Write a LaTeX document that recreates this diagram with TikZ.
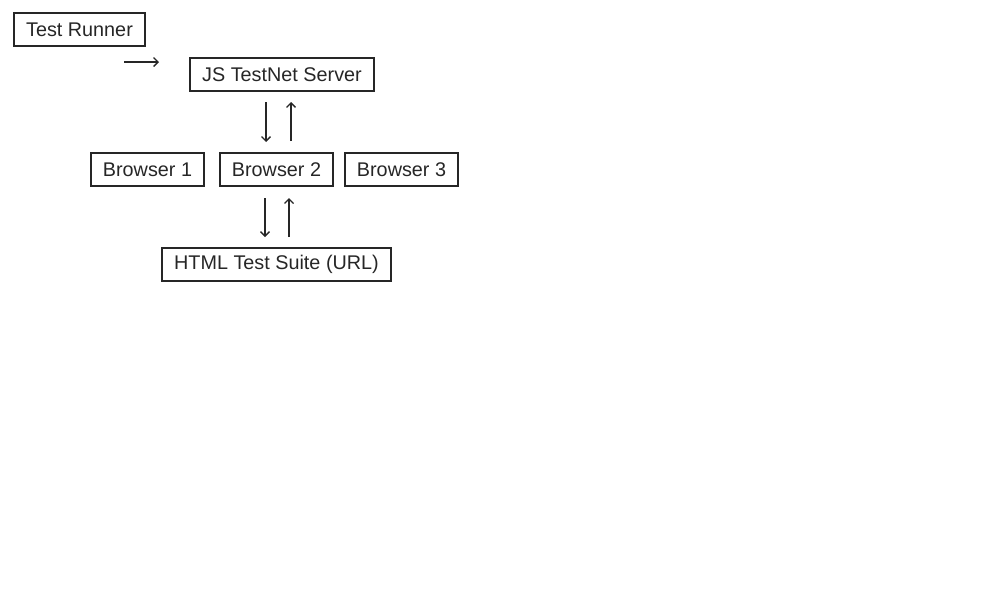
\documentclass[tikz,border=0pt]{standalone}
\usepackage{fontspec}
\setmainfont{Liberation Sans}
\usepackage{tikz}
\usetikzlibrary{arrows.meta}

\begin{document}
\begin{tikzpicture}[x=1pt,y=-1pt,thick,font=\fontsize{19.8}{24}\selectfont,
		box/.style={draw=black!85,line width=1.6pt,text=black!85,minimum height=33pt,inner xsep=0pt},
		flow/.style={-{Straight Barb[length=4.5pt,width=9pt]},line width=1.4pt,draw=black!85}]
		\useasboundingbox (0,0) rectangle (1000,600);
		
		\node[box,minimum width=131pt] (runner) at (79.5,29.5) {Test Runner};
		\node[box,minimum width=184pt] (server) at (282,74.5) {JS TestNet Server};
		\node[box,minimum width=113pt] (b1) at (147.5,169.5) {Browser 1};
		\node[box,minimum width=113pt] (b2) at (276.5,169.5) {Browser 2};
		\node[box,minimum width=113pt] (b3) at (401.5,169.5) {Browser 3};
		\node[box,minimum width=229pt] (suite) at (276.5,264.5) {HTML Test Suite (URL)};
		
		\coordinate (r1) at (124,62);
		\coordinate (r2) at (159,62);
		\coordinate (s1) at (266,102);
		\coordinate (s2) at (266,142);
		\coordinate (s3) at (291,141);
		\coordinate (s4) at (291,102);
		\coordinate (h1) at (265,198);
		\coordinate (h2) at (265,237);
		\coordinate (h3) at (289,237);
		\coordinate (h4) at (289,198);
		
		\draw[flow] (r1) -- (r2);
		\draw[flow] (s1) -- (s2);
		\draw[flow] (s3) -- (s4);
		\draw[flow] (h1) -- (h2);
		\draw[flow] (h3) -- (h4);
	
	\end{tikzpicture}
\end{document}
